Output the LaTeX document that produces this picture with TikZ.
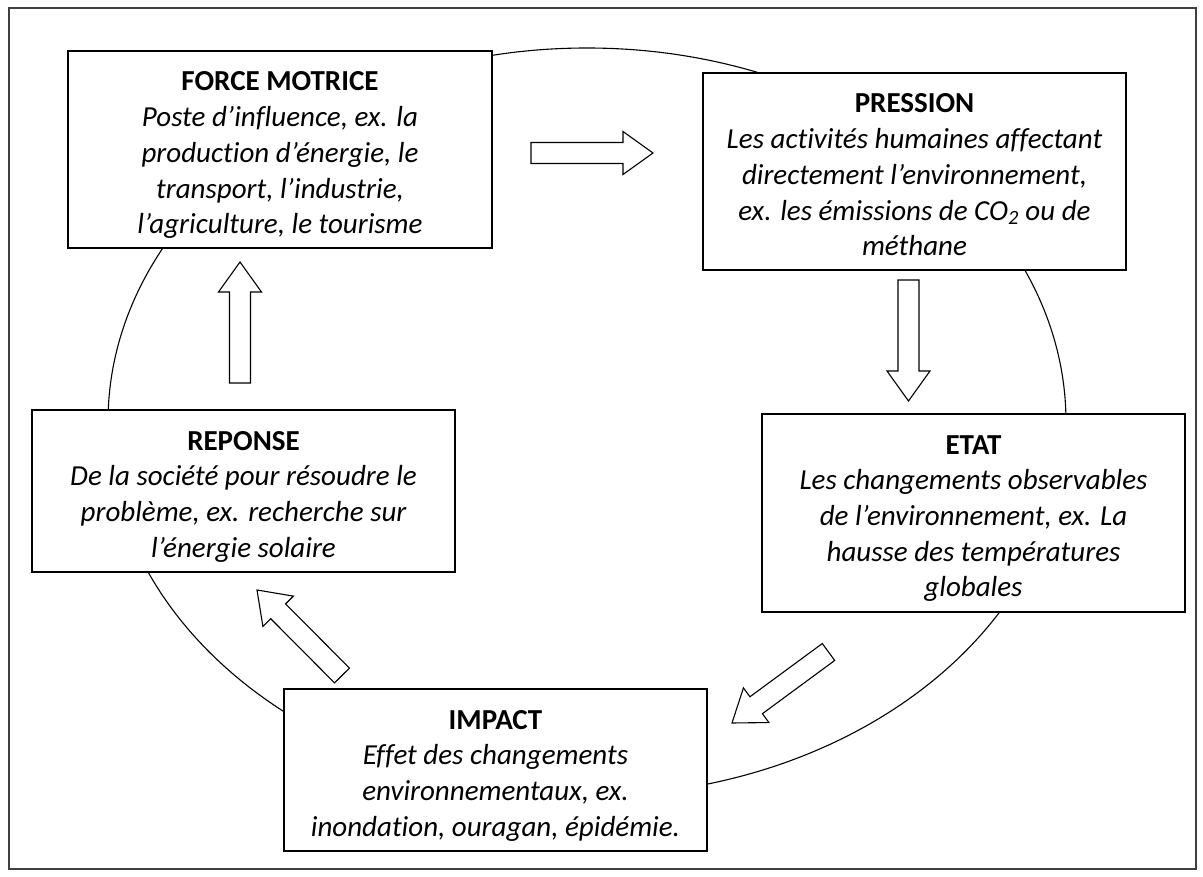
\documentclass[tikz,border=0pt]{standalone}
\usepackage{fontspec}
\setmainfont[Ligatures=NoCommon]{Carlito}
\usetikzlibrary{calc}

\tikzset{
  dpsbox/.style={draw, fill=white, line width=1.5pt, inner sep=0pt},
  cycleline/.style={line width=1.1pt},
  blockarrow/.style={draw, fill=white, line width=1.1pt, line join=miter},
  frameline/.style={line width=1.2pt, draw=black!75},
}

% box contents: width, height, bold title, italic description
\newcommand\boxtext[4]{\parbox[c][#2][t]{#1}{\centering
  \fontsize{29}{35.7}\selectfont\rule{0pt}{40pt}\textbf{#3}\\\itshape #4}}

% hollow block arrow from a tail coordinate to a tip coordinate
\newcommand\blockarrow[2]{%
  \coordinate (#1h) at ($(#2)!30pt!(#1)$);
  \draw[blockarrow]
    ($(#1)!10.5pt!90:(#2)$) -- ($(#1h)!10.5pt!90:(#2)$) --
    ($(#1h)!21.5pt!90:(#2)$) -- (#2) --
    ($(#1h)!21.5pt!-90:(#2)$) -- ($(#1h)!10.5pt!-90:(#2)$) --
    ($(#1)!10.5pt!-90:(#2)$) -- cycle;}

\begin{document}
\begin{tikzpicture}[x=1pt, y=-1pt]
  \useasboundingbox (0,0) rectangle (1203,877);
  \fill[white] (0,0) rectangle (1203,877);
  \draw[frameline] (9,8) rectangle (1196,869);

  % the cycle behind the five stages
  \draw[cycleline] (587,422) ellipse [x radius=479pt, y radius=374pt];

  \node[dpsbox] (force) at (280,149.5)
    {\boxtext{424pt}{197pt}{FORCE MOTRICE}{Poste d’influence, ex. la\\
      production d’énergie, le\\ transport, l’industrie,\\
      l’agriculture, le tourisme}};
  \node[dpsbox] (pression) at (914.5,171.5)
    {\boxtext{423pt}{197pt}{PRESSION}{Les activités humaines affectant\\
      directement l’environnement,\\
      ex. les émissions de CO\textsubscript{2} ou de\\ méthane}};
  \node[dpsbox] (etat) at (973.5,513)
    {\boxtext{423pt}{198pt}{ETAT}{Les changements observables\\
      de l’environnement, ex. La\\ hausse des températures\\ globales}};
  \node[dpsbox] (impact) at (495.5,770)
    {\boxtext{423pt}{162pt}{IMPACT}{Effet des changements\\
      environnementaux, ex.\\ inondation, ouragan, épidémie.}};
  \node[dpsbox] (reponse) at (243.5,491)
    {\boxtext{423pt}{162pt}{REPONSE}{De la société pour résoudre le\\
      problème, ex. recherche sur\\ l’énergie solaire}};

  % arrow ends between the stages
  \coordinate (fpT) at (531,153);   \coordinate (fpE) at (653,153);
  \coordinate (peT) at (908.5,280); \coordinate (peE) at (908.5,401);
  \coordinate (eiT) at (828.5,652); \coordinate (eiE) at (732,723);
  \coordinate (irT) at (342,675.5); \coordinate (irE) at (257,590);
  \coordinate (rfT) at (240,383);   \coordinate (rfE) at (240,262);

  \blockarrow{fpT}{fpE}
  \blockarrow{peT}{peE}
  \blockarrow{eiT}{eiE}
  \blockarrow{irT}{irE}
  \blockarrow{rfT}{rfE}
\end{tikzpicture}
\end{document}
